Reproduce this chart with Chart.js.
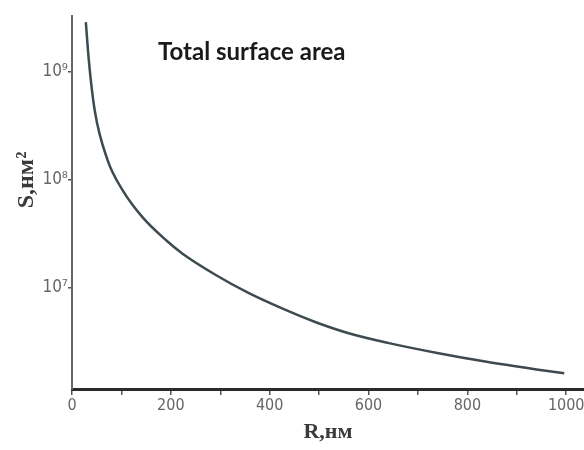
<!DOCTYPE html>
<html>
<head>
<meta charset="utf-8">
<script src="https://cdn.jsdelivr.net/npm/chart.js@4/dist/chart.umd.min.js"></script>
<style>
  html, body { margin: 0; padding: 0; background: #fff; }
  #wrap { width: 584px; height: 450px; }
</style>
</head>
<body>
<div id="wrap"><canvas id="chart"></canvas></div>
<script>
// ── Data ─────────────────────────────────────────────────────
const radius  = [28, 34, 46, 72, 102, 143, 191, 223, 291, 357, 424, 492, 558, 639, 739, 839, 940, 996];
const surface = [2.9e9, 1.29e9, 4.4e8, 1.53e8, 8.1e7, 4.5e7, 2.75e7, 2.09e7, 1.32e7, 9.0e6,
                 6.5e6, 4.84e6, 3.83e6, 3.1e6, 2.5e6, 2.07e6, 1.76e6, 1.62e6];
const xTicks  = [0, 100, 200, 300, 400, 500, 600, 700, 800, 900, 1000];
const yTicks  = [1e7, 1e8, 1e9];
const supDigits = { '6': '⁶', '7': '⁷', '8': '⁸', '9': '⁹' };

const points = radius.map((r, i) => ({ x: r, y: surface[i] }));

// ── Texts placed inside / beside the plot ───────────────────
const labelsPlugin = {
    id: 'extraLabels',
    afterDraw(chart) {
        const ctx = chart.ctx;
        ctx.save();
        ctx.font = 'bold 24px Lato, sans-serif';
        ctx.fillStyle = '#1a1a1a';
        ctx.textBaseline = 'middle';
        ctx.fillText('Total surface area', 158, 52);

        // y axis title
        ctx.translate(27, 180);
        ctx.rotate(-Math.PI / 2);
        ctx.textAlign = 'center';
        ctx.font = 'bold 24px "Liberation Serif", serif';
        ctx.fillStyle = '#3a3a3a';
        ctx.fillText('S,нм²', 0, 0);
        ctx.restore();
    }
};

new Chart(document.getElementById('chart'), {
    type: 'line',
    data: {
        datasets: [{
            data: points,
            borderColor: '#3d4a50',
            borderWidth: 2.5,
            pointRadius: 0,
            fill: false,
            cubicInterpolationMode: 'monotone',
        }]
    },
    options: {
        responsive: true,
        maintainAspectRatio: false,
        animation: false,
        layout: { padding: { top: 16, right: 0, left: 0, bottom: 0 } },
        plugins: {
            legend: { display: false },
            tooltip: { enabled: false }
        },
        scales: {
            x: {
                type: 'linear',
                min: 0, max: 1036,
                afterBuildTicks: (s) => { s.ticks = xTicks.map(v => ({ value: v })); },
                afterFit: (s) => { s.height = 61; s.paddingRight = 0; s.paddingLeft = 0; },
                border: { color: '#2a2a2a', width: 3 },
                grid: { drawOnChartArea: false, drawTicks: true, tickLength: 6, color: '#555', lineWidth: 1.5 },
                ticks: {
                    autoSkip: false,
                    maxRotation: 0,
                    padding: 1,
                    color: '#666',
                    font: { family: '"DejaVu Sans Condensed", sans-serif', size: 16 },
                    callback: (v) => (v % 200 === 0 ? String(v) : '')
                },
                title: {
                    display: true,
                    text: 'R,нм',
                    color: '#3a3a3a',
                    padding: { top: 0 },
                    font: { family: '"Liberation Serif", serif', size: 22, weight: 'bold' }
                }
            },
            y: {
                type: 'logarithmic',
                min: 1.16e6, max: 3.3e9,
                afterBuildTicks: (s) => { s.ticks = yTicks.map(v => ({ value: v })); },
                afterFit: (s) => { s.width = 72; },
                border: { color: '#666', width: 2 },
                grid: { drawOnChartArea: false, drawTicks: true, tickLength: 4, color: '#555', lineWidth: 1.5 },
                ticks: {
                    padding: 0,
                    color: '#666',
                    font: { family: '"DejaVu Sans Condensed", sans-serif', size: 17 },
                    callback: (v) => {
                        const e = String(Math.round(Math.log10(v)));
                        return '10' + (supDigits[e] || e);
                    }
                }
            }
        }
    },
    plugins: [labelsPlugin]
});
</script>
</body>
</html>
